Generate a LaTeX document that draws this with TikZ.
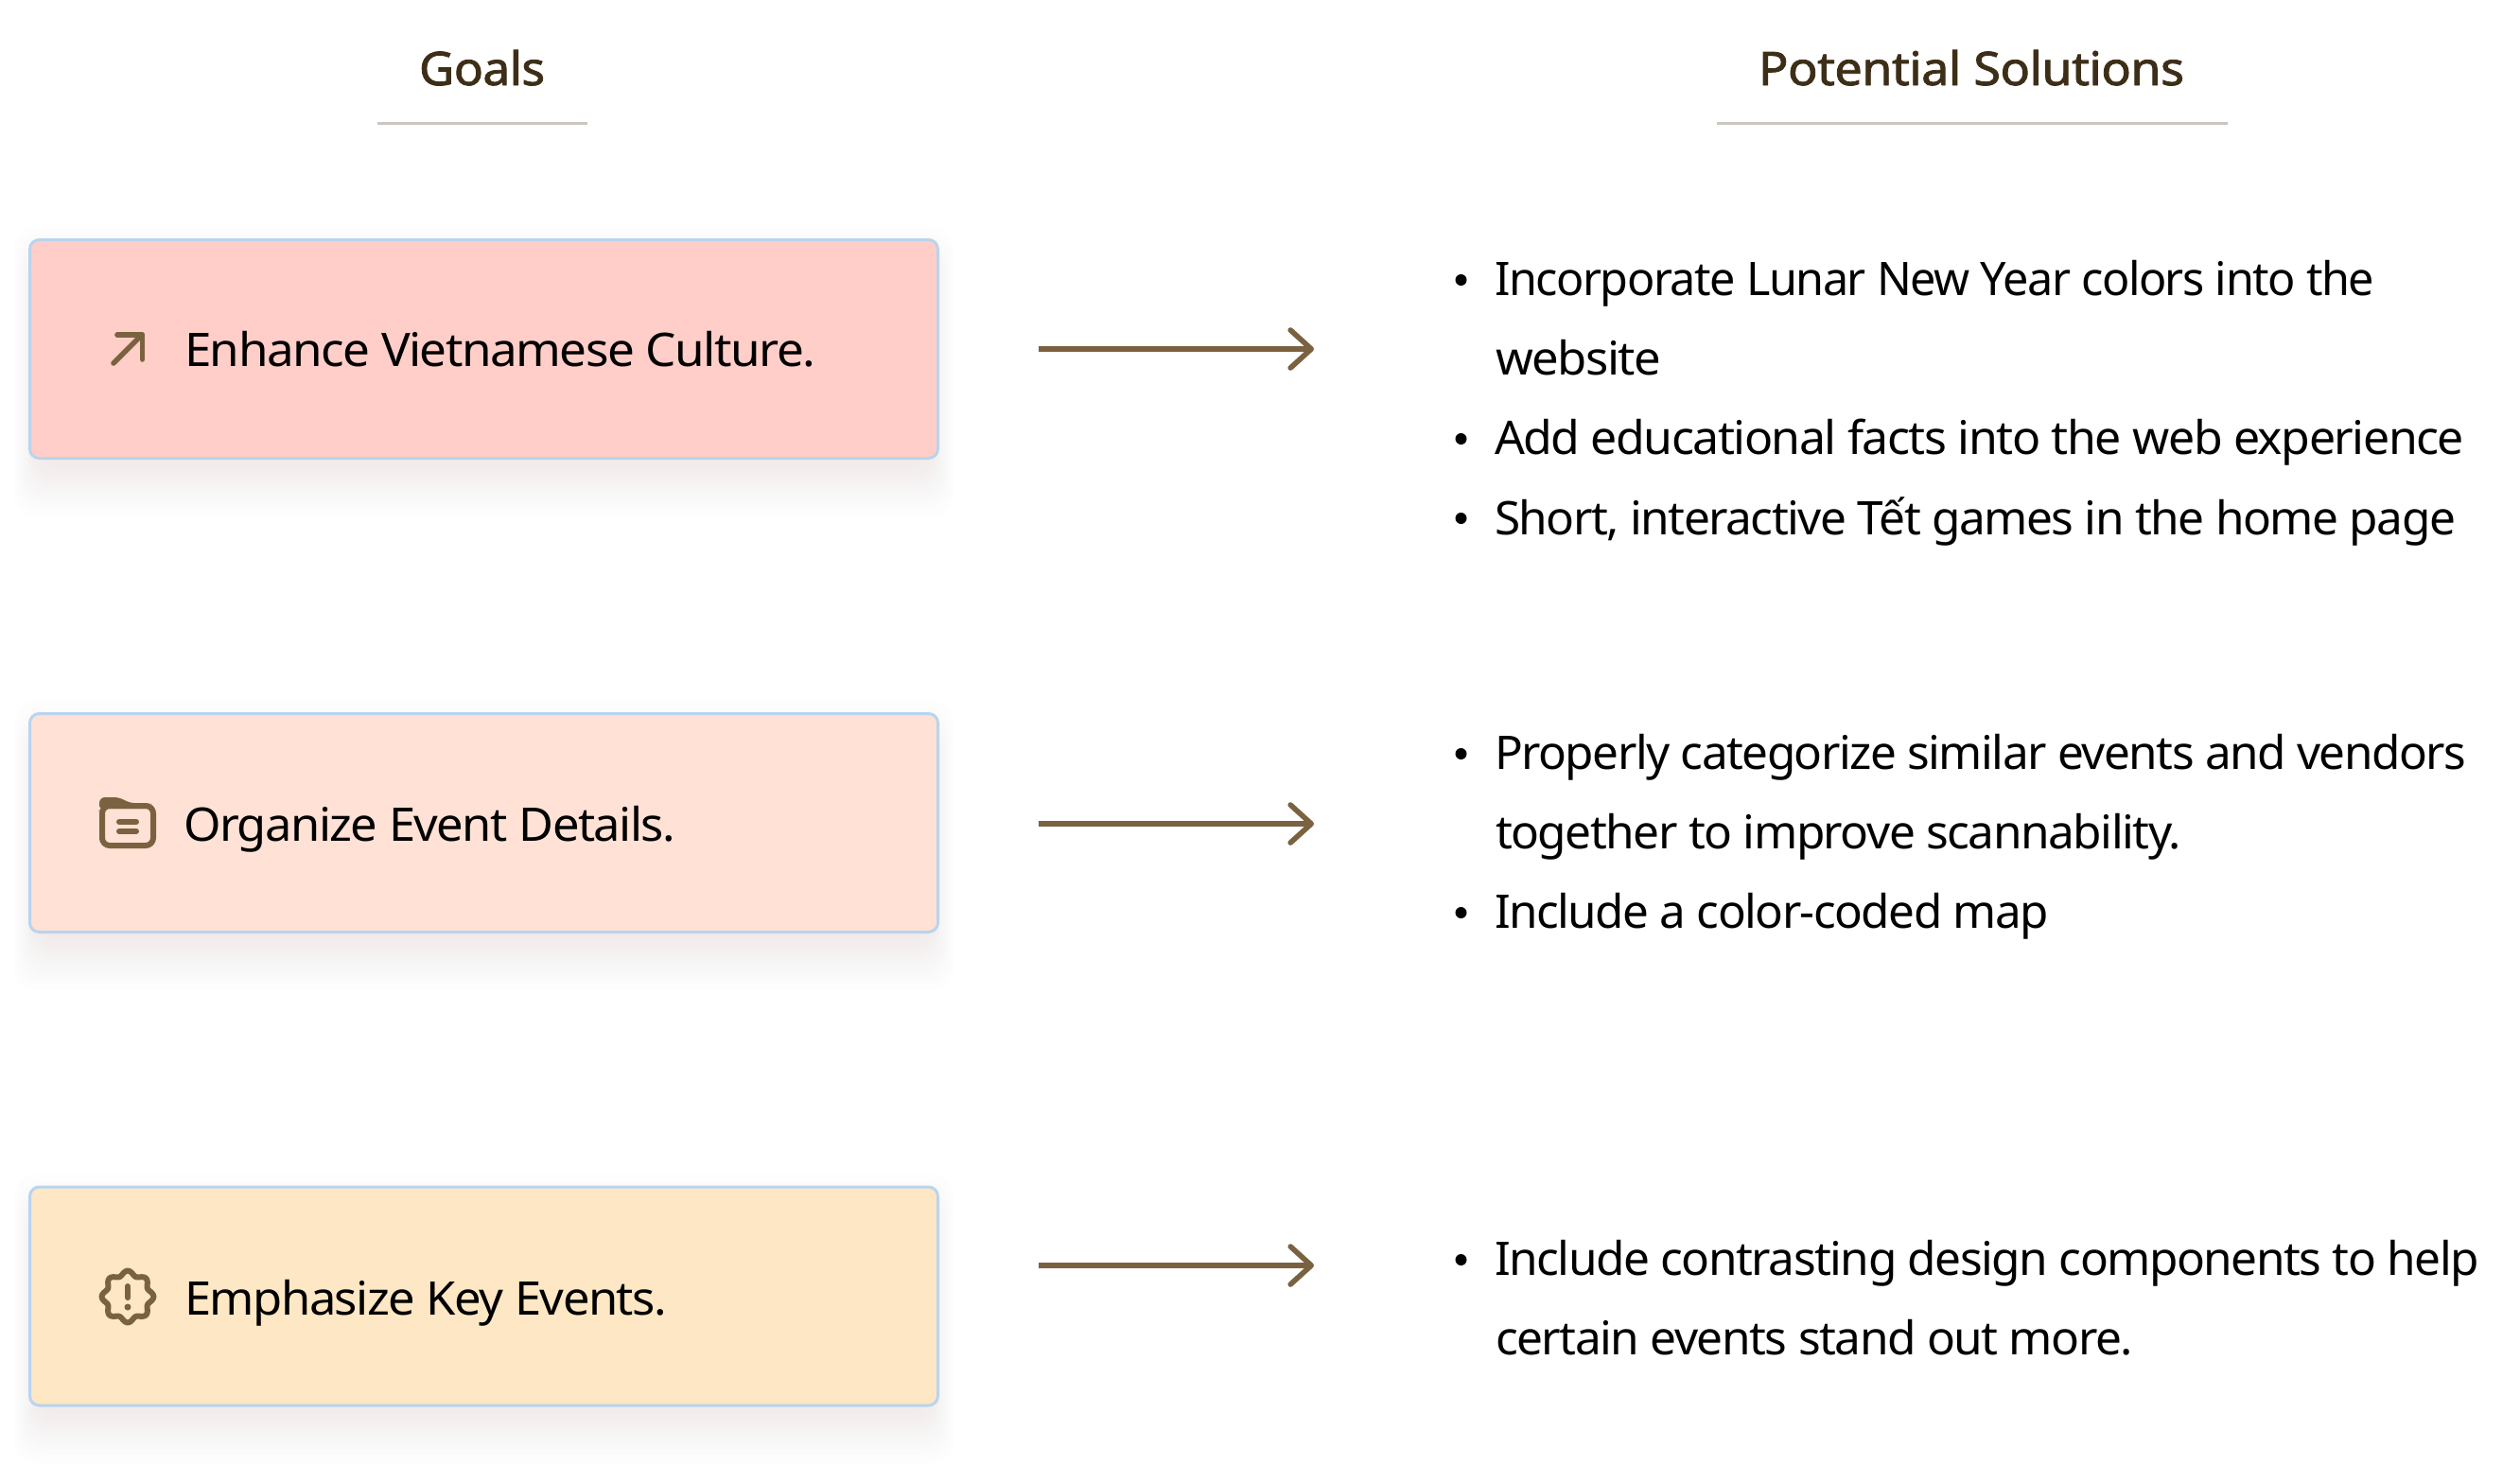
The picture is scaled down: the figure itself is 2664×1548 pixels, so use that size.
\documentclass[tikz,border=0pt]{standalone}
\usepackage{fontspec}
\usepackage{graphicx}
\setmainfont[LetterSpace=-3]{Noto Sans}
\newfontfamily\headfont[FakeBold=1.6,LetterSpace=-1]{Noto Sans}
\usetikzlibrary{arrows.meta}
\definecolor{brownc}{HTML}{7A6240}
\definecolor{headc}{HTML}{3D2E17}
\definecolor{rulec}{HTML}{CBC7BF}
\definecolor{edgec}{HTML}{B9D4EE}
\definecolor{fillA}{HTML}{FFCEC8}
\definecolor{fillB}{HTML}{FFE1D5}
\definecolor{fillC}{HTML}{FEE7C4}
\newsavebox\fitbox
\newcommand\fitw[2]{\sbox\fitbox{#2}\pgfmathsetmacro\fitr{#1*0.5/\wd\fitbox}\scalebox{\fitr}[1]{#2}}
\tikzset{
  x=0.5pt,y=-0.5pt,
  goalbox/.style={draw=edgec,line width=1.5pt,rounded corners=5pt,minimum width=480pt,minimum height=115.5pt,inner sep=0pt},
  bodytext/.style={anchor=base west,inner sep=0pt,outer sep=0pt,text=black,font=\fontsize{24.5}{29}\selectfont},
  headtext/.style={anchor=base west,inner sep=0pt,outer sep=0pt,text=headc,font=\headfont\fontsize{24.5}{29}\selectfont},
  headrule/.style={draw=rulec,line width=1.5pt},
  flowarrow/.style={draw=brownc,line width=2.8pt,-{Straight Barb[length=11pt,width=20pt,line width=2.8pt,round]}},
  iconline/.style={draw=brownc,line width=3pt,line cap=round,line join=round},
  bulletdot/.style={circle,fill=black,inner sep=0pt,minimum size=6pt},
}
\newcommand\softshadow[2]{%
  \foreach \d in {-24,-16,-10,-5,0,5,10,15,21,28,36}{
    \fill[brownc,fill opacity=0.007,rounded corners=12pt]
      (31-0.45*\d,#1+24-\d) rectangle (992+0.45*\d,#2+24+\d);
  }}
\begin{document}
\begin{tikzpicture}
\useasboundingbox (0,0) rectangle (2664,1548);
\fill[white] (0,0) rectangle (2664,1548);

% headers
\node[headtext] (h1) at (443,90) {\fitw{133}{Goals}};
\node[headtext] (h2) at (1859,90) {\fitw{450}{Potential Solutions}};
\coordinate (r1a) at (399,130); \coordinate (r1b) at (621,130);
\coordinate (r2a) at (1815,130); \coordinate (r2b) at (2355,130);
\draw[headrule] (r1a) -- (r1b);
\draw[headrule] (r2a) -- (r2b);

% shadows
\softshadow{252}{486}
\softshadow{753}{987}
\softshadow{1254}{1487}

% goal boxes
\node[goalbox,fill=fillA] (g1) at (511.5,369) {};
\node[goalbox,fill=fillB] (g2) at (511.5,870) {};
\node[goalbox,fill=fillC] (g3) at (511.5,1370.5) {};

\node[bodytext] (t1) at (195,387) {\fitw{667}{Enhance Vietnamese Culture.}};
\node[bodytext] (t2) at (194,889) {\fitw{520}{Organize Event Details.}};
\node[bodytext] (t3) at (195,1390) {\fitw{510}{Emphasize Key Events.}};

% icon: arrow
\draw[iconline,line width=2.8pt] (120,384) -- (150,354);
\draw[iconline,line width=2.8pt] (124,354) -- (150.5,354) -- (150.5,380);

% icon: folder
\draw[draw=brownc,line width=3pt,rounded corners=4pt] (108,852) rectangle (162,894);
\fill[brownc,rounded corners=3pt] (105,857) -- (105,843) -- (127,843) -- (136,849) -- (160,849) -- (160,855) -- (108,855) -- cycle;
\draw[iconline] (126,869) -- (144,869);
\draw[iconline] (126,879) -- (144,879);

% icon: badge
\draw[draw=brownc,line width=3pt,line join=round]
  plot[domain=0:360,samples=121,smooth] ({135+(25+2.4*cos(8*\x))*cos(\x)},{1371+(25+2.4*cos(8*\x))*sin(\x)}) -- cycle;
\draw[iconline] (135,1360) -- (135,1372);
\fill[brownc] (135,1382) circle[radius=3.5];

% arrows
\coordinate (a1s) at (1098,369); \coordinate (a1e) at (1389,369);
\coordinate (a2s) at (1098,871); \coordinate (a2e) at (1389,871);
\coordinate (a3s) at (1098,1338); \coordinate (a3e) at (1389,1338);
\draw[flowarrow] (a1s) -- (a1e);
\draw[flowarrow] (a2s) -- (a2e);
\draw[flowarrow] (a3s) -- (a3e);

% solutions
\node[bulletdot] (b1) at (1544.5,296) {};
\node[bodytext] (s1) at (1580,312) {\fitw{930}{Incorporate Lunar New Year colors into the}};
\node[bodytext] (s2) at (1581,396) {\fitw{175}{website}};
\node[bulletdot] (b2) at (1544.5,464) {};
\node[bodytext] (s3) at (1580,480) {\fitw{1025}{Add educational facts into the web experience}};
\node[bulletdot] (b3) at (1544.5,548) {};
\node[bodytext] (s4) at (1580,565) {\fitw{1016}{Short, interactive Tết games in the home page}};

\node[bulletdot] (b4) at (1544.5,797) {};
\node[bodytext] (s5) at (1580,813) {\fitw{1027}{Properly categorize similar events and vendors}};
\node[bodytext] (s6) at (1581,897) {\fitw{725}{together to improve scannability.}};
\node[bulletdot] (b5) at (1544.5,965) {};
\node[bodytext] (s7) at (1580,981) {\fitw{586}{Include a color-coded map}};

\node[bulletdot] (b6) at (1544.5,1332) {};
\node[bodytext] (s8) at (1580,1348) {\fitw{1041}{Include contrasting design components to help}};
\node[bodytext] (s9) at (1581,1432) {\fitw{674}{certain events stand out more.}};
\end{tikzpicture}
\end{document}
